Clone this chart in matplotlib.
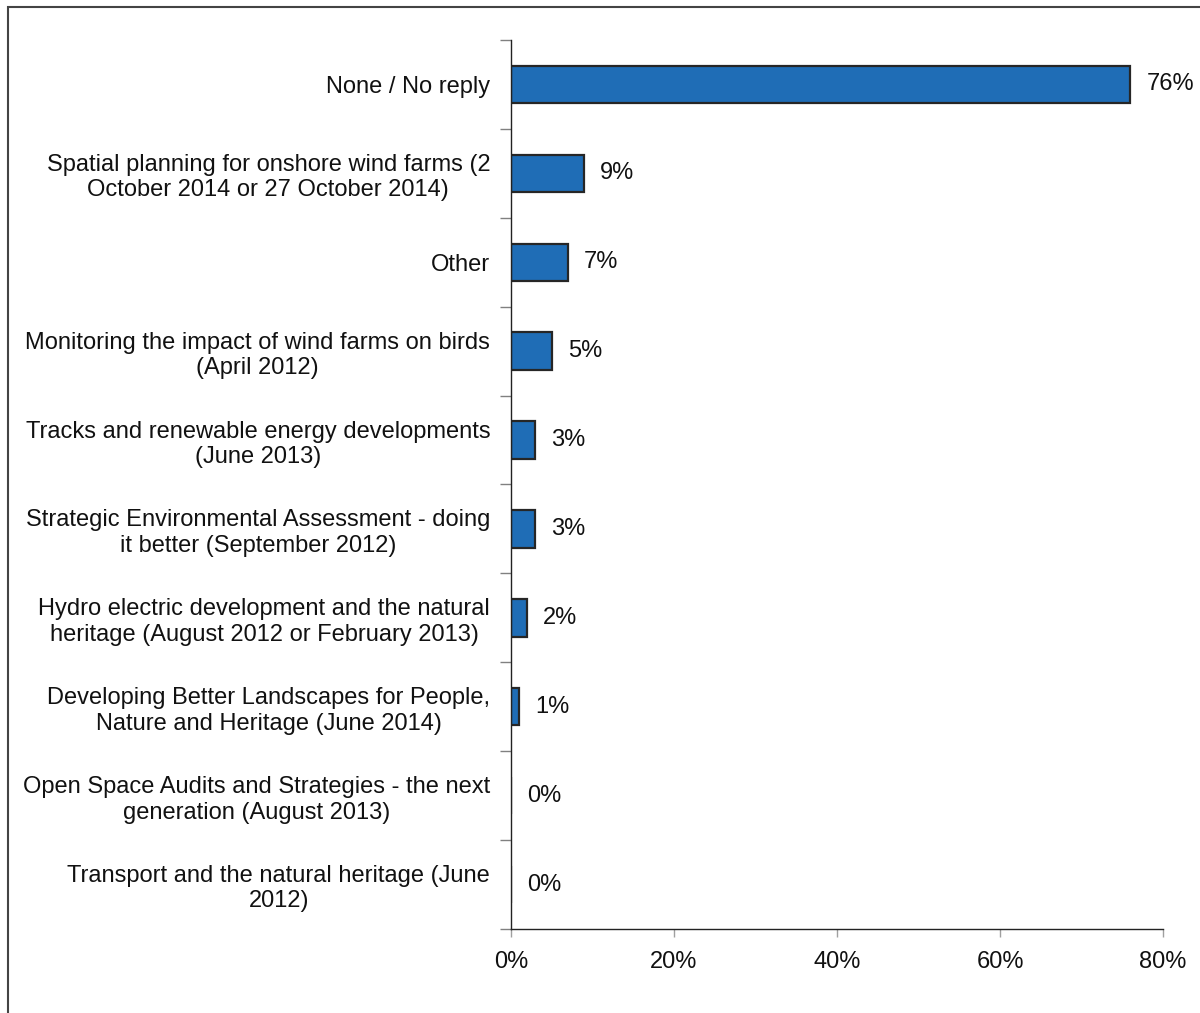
import matplotlib
matplotlib.use("Agg")
import matplotlib.pyplot as plt
from matplotlib.patches import Rectangle
from matplotlib.ticker import PercentFormatter, FixedLocator

# Survey responses: which guidance documents have been used (share of respondents)
topics = [
    "None / No reply",
    "Spatial planning for onshore wind farms (2\nOctober 2014 or 27 October 2014)",
    "Other",
    "Monitoring the impact of wind farms on birds\n(April 2012)",
    "Tracks and renewable energy developments\n(June 2013)",
    "Strategic Environmental Assessment - doing\nit better (September 2012)",
    "Hydro electric development and the natural\nheritage (August 2012 or February 2013)",
    "Developing Better Landscapes for People,\nNature and Heritage (June 2014)",
    "Open Space Audits and Strategies - the next\ngeneration (August 2013)",
    "Transport and the natural heritage (June\n2012)",
]
shares = [76, 9, 7, 5, 3, 3, 2, 1, 0, 0]
xticks = [0, 20, 40, 60, 80]

BAR = "#1F6DB6"
EDGE = "#262626"
TXT = "#111111"
FS = 17

plt.rcParams.update({"font.family": "Liberation Sans", "font.size": FS})

fig = plt.figure(figsize=(12, 10.13), dpi=100)
ax = fig.add_axes([511 / 1200, 1 - 929 / 1013, (1163 - 511) / 1200, (929 - 40) / 1013])

pos = list(range(len(topics)))
ax.barh(pos, shares, height=0.42, color=BAR, edgecolor=EDGE, linewidth=1.6, zorder=2)
ax.set_ylim(len(topics) - 0.5, -0.5)
ax.set_xlim(0, 80)

for y, v in zip(pos, shares):
    ax.annotate(f"{v}%", xy=(v, y), xytext=(16, 0), textcoords="offset pixels",
                ha="left", va="center", fontsize=FS, color=TXT)

# category labels centred on each bar, ticks drawn between categories
ax.yaxis.set_major_locator(FixedLocator([p - 0.5 for p in pos] + [len(pos) - 0.5]))
ax.set_yticklabels([])
ax.set_yticks(pos, minor=True)
ax.set_yticklabels(topics, minor=True, fontsize=FS, color=TXT, multialignment="center")
ax.tick_params(axis="y", which="minor", length=0, pad=15)
ax.tick_params(axis="y", which="major", length=8, color="#808080", width=1)

ax.set_xticks(xticks)
ax.xaxis.set_major_formatter(PercentFormatter(100, decimals=0))
ax.tick_params(axis="x", length=6, color="#a0a0a0", width=1, labelsize=FS,
               labelcolor=TXT, pad=10)

for s in ("top", "right"):
    ax.spines[s].set_visible(False)
for s in ("left", "bottom"):
    ax.spines[s].set_color("#222222")
    ax.spines[s].set_linewidth(1)

# outer chart border (runs off the right and bottom edges)
fig.patches.append(Rectangle((8 / 1200, -0.05), 1.2, 1 - 7 / 1013 + 0.05,
                             transform=fig.transFigure, fill=False,
                             edgecolor="#444444", linewidth=1.5))

fig.savefig("out.png", dpi=100)
